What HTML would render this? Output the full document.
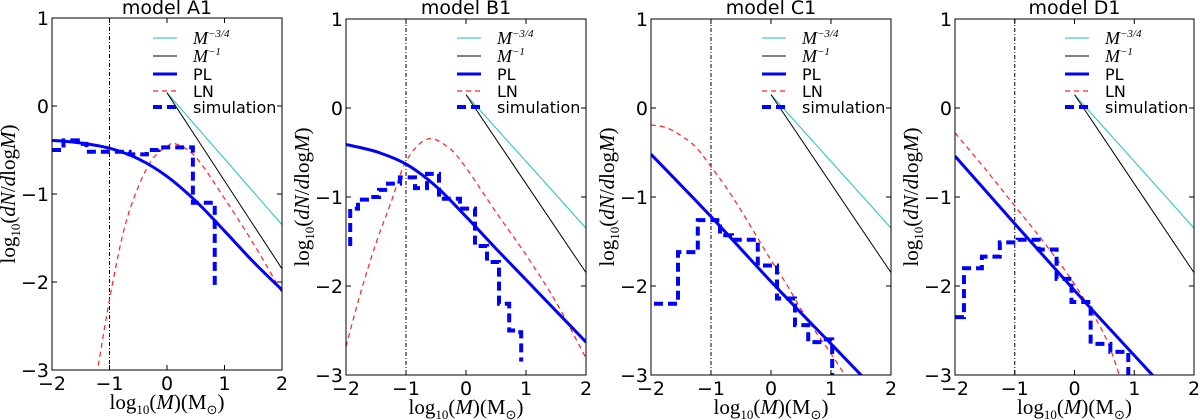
<!DOCTYPE html>
<html><head><meta charset="utf-8"><style>
body{margin:0;background:#fff;width:1200px;height:420px;overflow:hidden}
svg{display:block}
.tick{font-family:"DejaVu Sans","Liberation Sans",sans-serif;font-size:19px;fill:#000}
.title{font-family:"DejaVu Sans","Liberation Sans",sans-serif;font-size:19px;fill:#000}
.ser{font-family:"Liberation Serif",serif;font-size:21px;fill:#000}
.leg{font-family:"DejaVu Sans","Liberation Sans",sans-serif;font-size:16px;fill:#000}
.legs{font-family:"Liberation Serif",serif;font-size:18px;fill:#000}
</style></head><body>
<svg id="chart" width="1200" height="420" xmlns="http://www.w3.org/2000/svg"></svg>
<script>
const panelNames = ["model A1","model B1","model C1","model D1"];
const xTicks = [-2,-1,0,1,2];
const yTicks = [1,0,-1,-2,-3];
const refX = [0,2];
const refSteep = [0.15,-1.85];
const refShallow = [0.15,-1.35];
const cutX = -1;
// PL curves
const plA_x = [-2,-1.5,-1,-0.5,0,0.5,1,1.5,2];
const plA_y = [-0.39,-0.42,-0.48,-0.6,-0.8,-1.08,-1.42,-1.77,-2.09];
const plB_x = [-2,-1.5,-1,-0.5,0,0.5,1,1.5,2];
const plB_y = [-0.41,-0.49,-0.63,-0.88,-1.22,-1.58,-1.93,-2.28,-2.63];
const plC_x = [-2,-1,0,1,1.6];
const plC_y = [-0.52,-1.22,-1.95,-2.65,-3.07];
const plD_x = [-2,-1,0,1,1.4];
const plD_y = [-0.54,-1.3,-2.05,-2.78,-3.07];
// LN curves
const lnA_x = [-1.22,-1,-0.75,-0.5,-0.25,0,0.15,0.5,1,1.5,2];
const lnA_y = [-3.05,-2.2,-1.41,-0.92,-0.6,-0.46,-0.43,-0.58,-1.05,-1.56,-2.12];
const lnB_x = [-2,-1.75,-1.5,-1.25,-1,-0.65,-0.3,0,0.5,1,1.5,2];
const lnB_y = [-2.68,-2.06,-1.52,-1.06,-0.6,-0.35,-0.44,-0.67,-1.17,-1.65,-2.18,-2.81];
const lnC_x = [-2,-1.75,-1.5,-1.25,-1,-0.75,-0.5,-0.25,0,0.25,0.5,0.75,1,1.27];
const lnC_y = [-0.19,-0.22,-0.31,-0.44,-0.66,-0.89,-1.15,-1.43,-1.71,-1.97,-2.26,-2.52,-2.76,-3.04];
const lnD_x = [-2,-1.5,-1,-0.5,0,0.5,0.77];
const lnD_y = [-0.28,-0.68,-1.1,-1.52,-1.98,-2.55,-3.04];
// simulation histograms
const simA_edges = [-2,-1.8,-1.55,-1.4,-0.65,-0.35,-0.15,0.45,0.83];
const simA_vals = [-0.5,-0.39,-0.43,-0.52,-0.55,-0.5,-0.47,-1.1];
const simA_end = -2.05;
const simB_edges = [-1.93,-1.8,-1.6,-1.45,-1.3,-1.1,-0.85,-0.65,-0.45,-0.1,0.15,0.35,0.55,0.72,0.82,0.92];
const simB_vals = [-1.13,-1.03,-1.0,-0.92,-0.85,-0.78,-0.9,-0.74,-1.02,-1.13,-1.55,-1.73,-2.2,-2.5,-2.52];
const simB_start = -1.55;
const simB_end = -2.85;
const simC_edges = [-1.95,-1.55,-1.22,-0.85,-0.65,-0.22,0.1,0.4,0.62,0.85,1.02];
const simC_vals = [-2.2,-1.62,-1.26,-1.43,-1.48,-1.77,-2.14,-2.44,-2.63,-2.6];
const simC_end = -3.05;
const simD_edges = [-2,-1.85,-1.55,-1.25,-0.95,-0.6,-0.3,-0.05,0.27,0.6,0.9];
const simD_vals = [-2.35,-1.8,-1.67,-1.51,-1.48,-1.59,-1.92,-2.18,-2.65,-2.74];
const simD_end = -3.05;

const panels = [
 {L:52,R:282,T:18,B:370,pl:[plA_x,plA_y],ln:[lnA_x,lnA_y],sim:[simA_edges,simA_vals,null,simA_end]},
 {L:346,R:586,T:19,B:375,pl:[plB_x,plB_y],ln:[lnB_x,lnB_y],sim:[simB_edges,simB_vals,simB_start,simB_end]},
 {L:651,R:891,T:19,B:375,pl:[plC_x,plC_y],ln:[lnC_x,lnC_y],sim:[simC_edges,simC_vals,null,simC_end]},
 {L:955,R:1194,T:19,B:375,pl:[plD_x,plD_y],ln:[lnD_x,lnD_y],sim:[simD_edges,simD_vals,null,simD_end]}
];
const NS="http://www.w3.org/2000/svg";
const svg=document.getElementById('chart');
function mk(tag,attrs,parent){const e=document.createElementNS(NS,tag);for(const k in attrs)e.setAttribute(k,attrs[k]);(parent||svg).appendChild(e);return e;}
function smooth(pts){let d=`M${pts[0][0]},${pts[0][1]}`;for(let i=0;i<pts.length-1;i++){const p0=pts[Math.max(0,i-1)],p1=pts[i],p2=pts[i+1],p3=pts[Math.min(pts.length-1,i+2)];const c1=[p1[0]+(p2[0]-p0[0])/6,p1[1]+(p2[1]-p0[1])/6],c2=[p2[0]-(p3[0]-p1[0])/6,p2[1]-(p3[1]-p1[1])/6];d+=` C${c1[0]},${c1[1]} ${c2[0]},${c2[1]} ${p2[0]},${p2[1]}`;}return d;}
const letters=["a","b","c","d"];
panels.forEach((p,i)=>{
 const sx=v=>p.L+(v+2)/4*(p.R-p.L);
 const sy=v=>p.T+(1-v)/4*(p.B-p.T);
 const g=mk('g',{});
 
 
 const cp=mk('clipPath',{id:'clip'+i},g);mk('rect',{x:p.L,y:p.T,width:p.R-p.L,height:p.B-p.T},cp);
 const t=mk('text',{x:(p.L+p.R)/2,y:14,'text-anchor':'middle',class:'title'},g);t.textContent=panelNames[i];
 
 
 const pg=mk('g',{'clip-path':`url(#clip${i})`},g);
 const cl=mk('line',{x1:sx(cutX),x2:sx(cutX),y1:p.T,y2:p.B,stroke:'#000','stroke-width':1,'stroke-dasharray':'4,2,1,2'},pg);
 
 
 const r1=mk('line',{x1:sx(refX[0]),y1:sy(refShallow[0]),x2:sx(refX[1]),y2:sy(refShallow[1]),stroke:'#20c0c0','stroke-width':1},pg);
 
 
 const r2=mk('line',{x1:sx(refX[0]),y1:sy(refSteep[0]),x2:sx(refX[1]),y2:sy(refSteep[1]),stroke:'#000','stroke-width':1},pg);
 
 
 const ln=mk('path',{d:smooth(p.ln[0].map((x,k)=>[sx(x),sy(p.ln[1][k])])),fill:'none',stroke:'#ff2020','stroke-width':1.2,'stroke-dasharray':'5,4'},pg);
 
 
 const pl=mk('path',{d:smooth(p.pl[0].map((x,k)=>[sx(x),sy(p.pl[1][k])])),fill:'none',stroke:'#0000ff','stroke-width':3},pg);
 
 
 const [ed,vl,st,en]=p.sim;
 let d=st!==null?`M${sx(ed[0])},${sy(st)} L${sx(ed[0])},${sy(vl[0])}`:`M${sx(ed[0])},${sy(vl[0])}`;
 for(let k=0;k<vl.length;k++){d+=` L${sx(ed[k])},${sy(vl[k])} L${sx(ed[k+1])},${sy(vl[k])}`;}
 d+=` L${sx(ed[ed.length-1])},${sy(en)}`;
 const sm=mk('path',{d:d,fill:'none',stroke:'#0000ff','stroke-width':4,'stroke-dasharray':'9,5'},pg);
 
 
 mk('rect',{x:p.L,y:p.T,width:p.R-p.L,height:p.B-p.T,fill:'none',stroke:'#000','stroke-width':1},g);
 xTicks.forEach(v=>{const x=sx(v);mk('line',{x1:x,x2:x,y1:p.B,y2:p.B-5,stroke:'#000'},g);mk('line',{x1:x,x2:x,y1:p.T,y2:p.T+5,stroke:'#000'},g);
  const tl=mk('text',{x:x,y:p.B+20,'text-anchor':'middle',class:'tick'},g);tl.textContent=v<0?'\u2212'+(-v):String(v);
  
  });
 yTicks.forEach(v=>{const y=sy(v);mk('line',{x1:p.L,x2:p.L+5,y1:y,y2:y,stroke:'#000'},g);mk('line',{x1:p.R,x2:p.R-5,y1:y,y2:y,stroke:'#000'},g);
  const tl=mk('text',{x:p.L-3,y:y+7,'text-anchor':'end',class:'tick'},g);tl.textContent=v<0?'\u2212'+(-v):String(v);
  
  });
 const xt=mk('text',{x:(p.L+p.R)/2,y:p.B+39,'text-anchor':'middle',class:'ser'},g);
 xt.innerHTML='log<tspan font-size="13" dy="5">10</tspan><tspan dy="-5">(</tspan><tspan font-style="italic">M</tspan>)(M<tspan font-size="13" dy="5">\u2299</tspan><tspan dy="-5">)</tspan>';
 
 
 const yc=(p.T+p.B)/2, yx=p.L-37;
 const yt=mk('text',{x:yx,y:yc,'text-anchor':'middle',class:'ser',transform:`rotate(-90 ${yx} ${yc})`},g);
 yt.innerHTML='log<tspan font-size="13" dy="5">10</tspan><tspan dy="-5">(</tspan><tspan font-style="italic">dN</tspan>/<tspan font-style="italic">d</tspan>log<tspan font-style="italic">M</tspan>)';
 
 
 const lg=mk('g',{},g);
 
 
 const items=[['#20c0c0',1,'','M<tspan font-size="11" dy="-7">\u22123/4</tspan>',38],['#000',1,'','M<tspan font-size="11" dy="-7">\u22121</tspan>',56],['#0000ff',3,'','PL',74],['#ff2020',1.2,'5,4','LN',91],['#0000ff',4,'9,5','simulation',107]];
 items.forEach((it,k)=>{
  mk('line',{x1:p.R-129,x2:p.R-105,y1:it[4],y2:it[4],stroke:it[0],'stroke-width':it[1],'stroke-dasharray':it[2]||'none'},lg);
  const tx=mk('text',{x:p.R-89,y:it[4]+6,class:k<2?'legs':'leg','font-style':k<2?'italic':'normal'},lg);tx.innerHTML=it[3];
  
  
 });
});
</script>
</body></html>
